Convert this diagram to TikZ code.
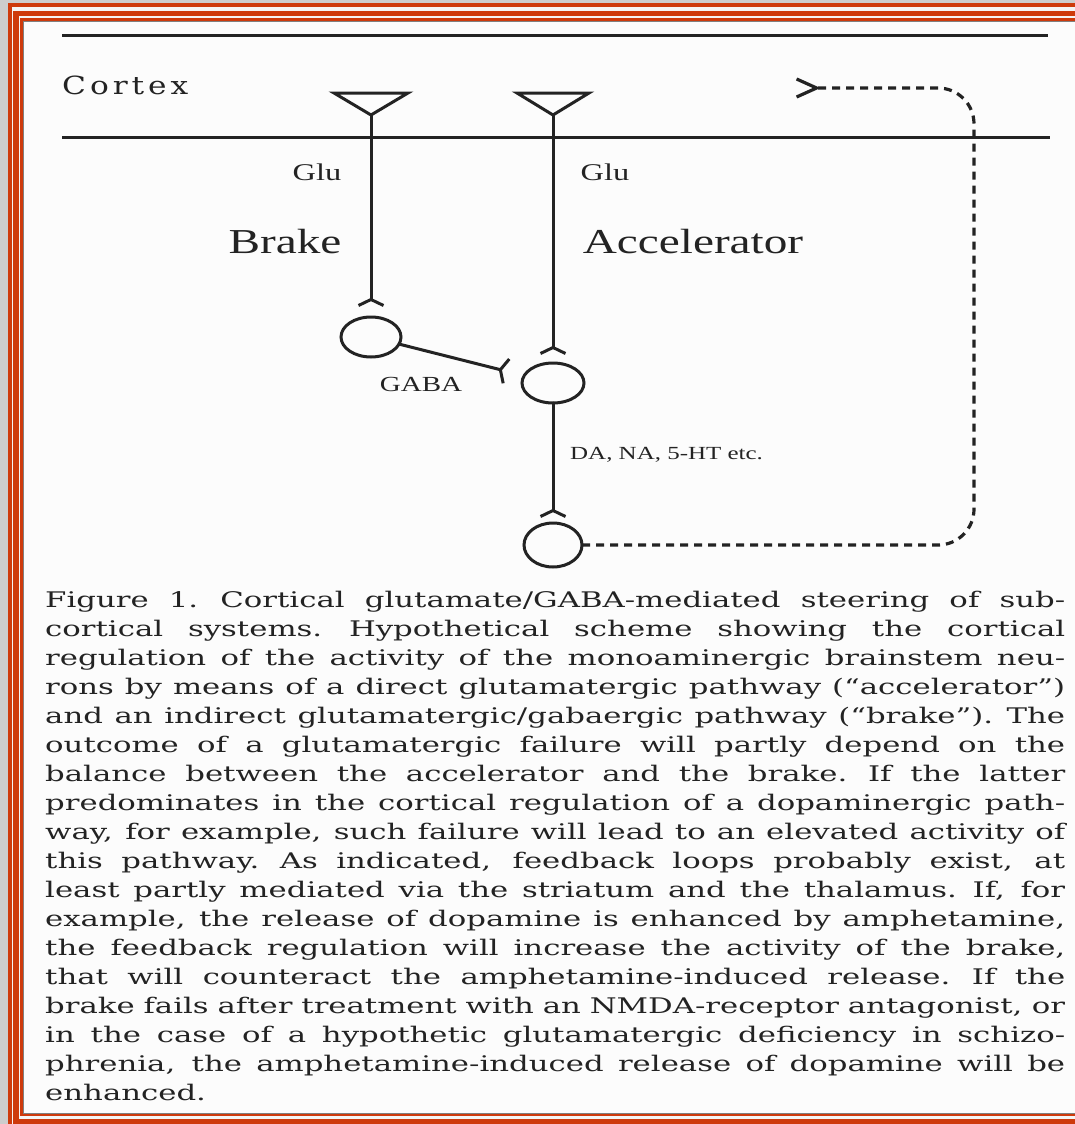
\documentclass[tikz,border=0pt]{standalone}
\usepackage{fontspec}
\usetikzlibrary{arrows.meta,shapes.geometric}
\newfontfamily\capfont[FakeStretch=1.43]{DejaVu Serif}
\newfontfamily\lblfont[FakeStretch=1.35]{Liberation Serif}
\newfontfamily\ctxfont[FakeStretch=1.25]{DejaVu Serif}
\definecolor{framered}{RGB}{206,58,12}
\definecolor{ink}{RGB}{35,35,35}
\definecolor{outergray}{RGB}{205,205,205}
\newcommand\capline[1]{\hbox to 1020pt{\spaceskip=6pt plus 1fil minus 2pt\xspaceskip=8pt plus 1fil minus 2pt\relax #1}}
\tikzset{
  syntip/.tip={Straight Barb[reversed,length=6pt,width=25pt]},
  fbtip/.tip={Straight Barb[reversed,length=20pt,width=18pt]},
  neuron/.style={ellipse,draw=ink,line width=3pt,minimum width=60pt,minimum height=40pt,inner sep=0pt,outer sep=0pt},
  axon/.style={draw=ink,line width=3pt,line cap=round},
  lbl/.style={text=ink,inner sep=0pt},
  layer/.style={draw=ink,line width=3pt},
}
\begin{document}
\begin{tikzpicture}[x=1pt,y=-1pt]
\useasboundingbox (0,0) rectangle (1075,1124);
\clip (0,0) rectangle (1075,1124);
% frame
\fill[outergray] (0,0) rectangle (1075,1124);
\fill[white!92!gray] (8,4) rectangle (1100,1140);
\draw[framered,line width=4pt] (9.5,5.5) rectangle (1100,1140);
\draw[framered,line width=5.5pt] (16,13.5) rectangle (1100,1121.5);
\draw[framered,line width=2.5pt] (21.5,19.5) rectangle (1100,1115);
\fill[white!98!gray] (23,21) rectangle (1100,1113);
\draw[gray,line width=0.8pt] (23,21) rectangle (1100,1113);
% layers
\draw[layer] (62,36) -- (1048,36);
\draw[layer] (62,137) -- (1050,137);
\node[lbl,anchor=west,font=\ctxfont\fontsize{25}{30}\selectfont] (cortex) at (62,85) {\hbox to 126pt{C\hfil o\hfil r\hfil t\hfil e\hfil x}};
% pyramidal cells
\coordinate (t1) at (371,115);
\coordinate (t2) at (553,115);
\draw[axon,line join=miter] (334,93) -- (408,93) -- (t1) -- cycle;
\draw[axon,line join=miter] (517,93) -- (589,93) -- (t2) -- cycle;
% neurons
\node[neuron] (c1) at (371,337) {};
\node[neuron,minimum width=62pt] (c2) at (553,383) {};
\node[neuron,minimum width=58pt,minimum height=44pt] (c3) at (553,545) {};
% connectors
\draw[axon,-syntip,shorten >=10pt] (t1) -- (c1.north);
\draw[axon,-syntip,shorten >=8pt] (t2) -- (c2.north);
\draw[axon,-syntip,shorten >=5pt] (c2.south) -- (c3.north);
\draw[axon,-syntip,shorten >=17pt] (c1) -- (c2);
\coordinate (loopc) at (974,88);
\coordinate (fb) at (795,88);
\draw[ink,line width=3.2pt,dash pattern=on 8pt off 6pt,rounded corners=36pt,-fbtip] (c3.east) -| (loopc) -- (fb);
% labels
\node[lbl,font=\lblfont\fontsize{24}{28}\selectfont] (glu1) at (317,172) {Glu};
\node[lbl,font=\lblfont\fontsize{24}{28}\selectfont] (glu2) at (605,172) {Glu};
\node[lbl,font=\lblfont\fontsize{35}{40}\selectfont] (brake) at (285,242) {Brake};
\node[lbl,font=\lblfont\fontsize{35}{40}\selectfont] (acc) at (693,242) {Accelerator};
\node[lbl,font=\lblfont\fontsize{21.5}{26}\selectfont] (gaba) at (421,384) {GABA};
\node[lbl,anchor=west,font=\lblfont\fontsize{18.5}{22}\selectfont] (da) at (570,455) {DA, NA, 5-HT etc.};
% caption
\node[anchor=base west,inner sep=0pt,text width=1020pt,text=ink,font=\capfont\fontsize{21.5}{29}\selectfont] (caption) at (45,607) {%
\capline{Figure 1. Cortical glutamate/GABA-mediated steering of sub-}
\capline{cortical systems. Hypothetical scheme showing the cortical}
\capline{regulation of the activity of the monoaminergic brainstem neu-}
\capline{rons by means of a direct glutamatergic pathway (“accelerator”)}
\capline{and an indirect glutamatergic/gabaergic pathway (“brake”). The}
\capline{outcome of a glutamatergic failure will partly depend on the}
\capline{balance between the accelerator and the brake. If the latter}
\capline{predominates in the cortical regulation of a dopaminergic path-}
\capline{way, for example, such failure will lead to an elevated activity of}
\capline{this pathway. As indicated, feedback loops probably exist, at}
\capline{least partly mediated via the striatum and the thalamus. If, for}
\capline{example, the release of dopamine is enhanced by amphetamine,}
\capline{the feedback regulation will increase the activity of the brake,}
\capline{that will counteract the amphetamine-induced release. If the}
\capline{brake fails after treatment with an NMDA-receptor antagonist, or}
\capline{in the case of a hypothetic glutamatergic deficiency in schizo-}
\capline{phrenia, the amphetamine-induced release of dopamine will be}
\hbox{enhanced.}};
\end{tikzpicture}
\end{document}
